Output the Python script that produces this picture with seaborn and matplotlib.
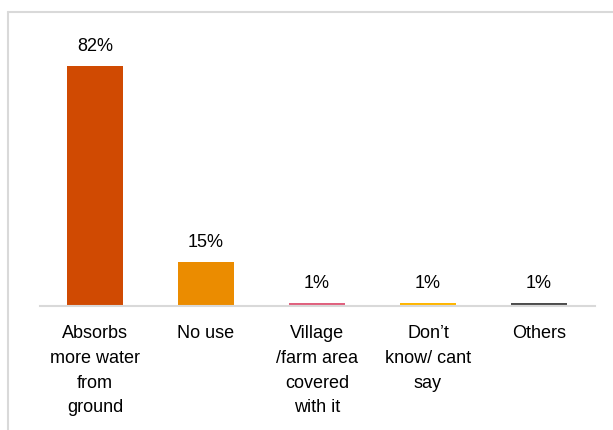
import matplotlib
matplotlib.use("Agg")
import matplotlib.pyplot as plt
from matplotlib.lines import Line2D
import seaborn as sns
import pandas as pd

categories = [
    "Absorbs\nmore water\nfrom\nground",
    "No use",
    "Village\n/farm area\ncovered\nwith it",
    "Don\u2019t\nknow/ cant\nsay",
    "Others",
]
values = [82, 15, 1, 1, 1]
colors = ["#D04A02", "#EB8C00", "#E0607E", "#FFB600", "#4D4D4D"]

sns.set_theme(style="white")
plt.rcParams["font.family"] = ["Liberation Sans", "DejaVu Sans"]

W, H = 613, 430
fig = plt.figure(figsize=(W / 100, H / 100), dpi=100)

# plot area in pixel terms
left_px, right_px, base_px, top_px = 39.5, 594.5, 306, 20
ax = fig.add_axes([left_px / W, 1 - base_px / H,
                   (right_px - left_px) / W, (base_px - top_px) / H])

df = pd.DataFrame({"cat": categories, "val": values})
sns.barplot(data=df, x="cat", y="val", hue="cat", palette=colors,
            width=0.5, legend=False, ax=ax, saturation=1, linewidth=0)

ax.set_ylim(0, (base_px - top_px) / (240 / 82))
ax.set_xlim(-0.5, len(categories) - 0.5)
for c in ax.containers:
    ax.bar_label(c, labels=[f"{int(v)}%" for v in c.datavalues], padding=8,
                 fontsize=13, color="#000000")

ax.set_xlabel("")
ax.set_ylabel("")
ax.set_yticks([])
ax.tick_params(axis="x", length=0, pad=14, labelsize=13, labelcolor="#000000")
for lbl in ax.get_xticklabels():
    lbl.set_linespacing(1.58)
    lbl.set_verticalalignment("top")
for s in ["top", "right", "left"]:
    ax.spines[s].set_visible(False)
ax.spines["bottom"].set_color("#D9D9D9")
ax.spines["bottom"].set_linewidth(1.5)

# outer frame edges
fig.add_artist(Line2D([8 / W, 8 / W], [0, 1 - 12 / H],
                      transform=fig.transFigure, color="#D9D9D9", lw=1.5))
fig.add_artist(Line2D([8 / W, 1], [1 - 12 / H, 1 - 12 / H],
                      transform=fig.transFigure, color="#D9D9D9", lw=1.5))

fig.savefig("out.png", dpi=100)
